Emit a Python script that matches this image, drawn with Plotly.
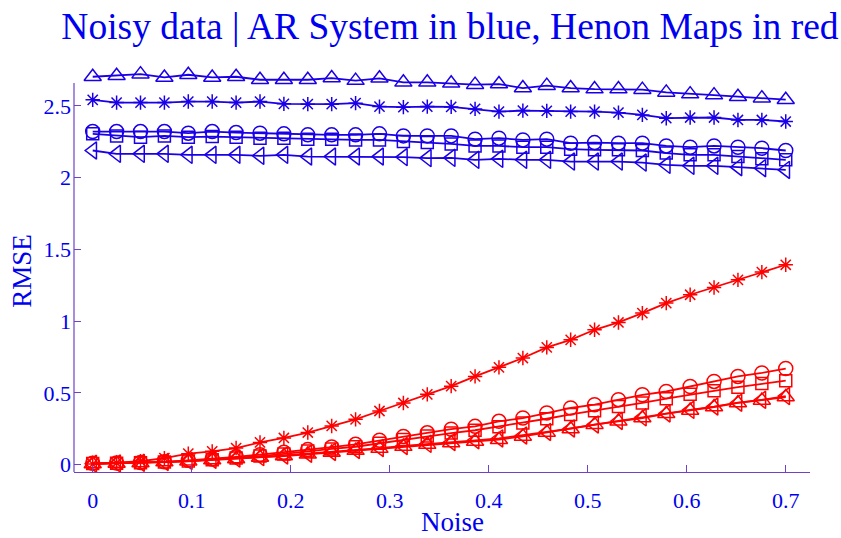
import numpy as np
import plotly.graph_objects as go

# Noise levels (30 evenly spaced runs from 0 to 0.7)
noise = np.linspace(0, 0.7, 30)

# AR system RMSE curves
ar_triangle_up = [2.703, 2.710, 2.721, 2.698, 2.717, 2.698, 2.703, 2.682, 2.682, 2.682,
                  2.694, 2.676, 2.692, 2.664, 2.664, 2.657, 2.648, 2.652, 2.624, 2.641,
                  2.624, 2.617, 2.617, 2.613, 2.594, 2.582, 2.575, 2.564, 2.554, 2.543]
ar_star = [2.542, 2.523, 2.523, 2.523, 2.530, 2.530, 2.523, 2.530, 2.514, 2.512,
           2.512, 2.519, 2.495, 2.491, 2.495, 2.493, 2.479, 2.460, 2.467, 2.465,
           2.460, 2.460, 2.453, 2.437, 2.414, 2.419, 2.419, 2.402, 2.402, 2.391]
ar_circle = [2.321, 2.321, 2.321, 2.321, 2.310, 2.321, 2.314, 2.310, 2.305, 2.298,
             2.298, 2.298, 2.305, 2.291, 2.291, 2.291, 2.268, 2.275, 2.263, 2.268,
             2.240, 2.244, 2.240, 2.240, 2.221, 2.212, 2.221, 2.212, 2.205, 2.189]
ar_square = [2.305, 2.291, 2.282, 2.291, 2.282, 2.286, 2.282, 2.275, 2.275, 2.268,
             2.268, 2.263, 2.263, 2.251, 2.244, 2.235, 2.221, 2.221, 2.212, 2.212,
             2.198, 2.194, 2.194, 2.189, 2.171, 2.159, 2.159, 2.147, 2.131, 2.124]
ar_triangle_left = [2.189, 2.166, 2.166, 2.166, 2.159, 2.159, 2.159, 2.152, 2.159, 2.147,
                    2.147, 2.147, 2.147, 2.143, 2.136, 2.138, 2.124, 2.131, 2.124, 2.124,
                    2.112, 2.112, 2.112, 2.105, 2.089, 2.082, 2.082, 2.073, 2.066, 2.054]

# Henon map RMSE curves
hn_star = [0.004, 0.012, 0.024, 0.046, 0.077, 0.093, 0.116, 0.155, 0.186, 0.224,
           0.270, 0.316, 0.374, 0.430, 0.490, 0.547, 0.615, 0.678, 0.743, 0.817,
           0.870, 0.940, 0.991, 1.056, 1.126, 1.184, 1.235, 1.288, 1.342, 1.393]
hn_circle = [0.010, 0.012, 0.015, 0.020, 0.030, 0.040, 0.055, 0.070, 0.086, 0.105,
             0.123, 0.142, 0.170, 0.197, 0.222, 0.247, 0.267, 0.302, 0.325, 0.360,
             0.395, 0.418, 0.453, 0.487, 0.510, 0.545, 0.580, 0.615, 0.639, 0.670]
hn_square = [0.008, 0.010, 0.013, 0.018, 0.025, 0.035, 0.047, 0.060, 0.075, 0.095,
             0.110, 0.125, 0.150, 0.175, 0.200, 0.220, 0.240, 0.265, 0.290, 0.320,
             0.350, 0.375, 0.405, 0.430, 0.460, 0.490, 0.515, 0.540, 0.565, 0.585]
hn_triangle_up = [0.005, 0.008, 0.012, 0.018, 0.024, 0.032, 0.040, 0.050, 0.060, 0.072,
                  0.085, 0.098, 0.112, 0.126, 0.140, 0.151, 0.162, 0.174, 0.197, 0.225,
                  0.249, 0.279, 0.302, 0.325, 0.355, 0.378, 0.402, 0.430, 0.448, 0.471]
hn_triangle_left = [0.006, 0.009, 0.013, 0.019, 0.026, 0.034, 0.043, 0.053, 0.064, 0.076,
                    0.089, 0.102, 0.116, 0.130, 0.145, 0.158, 0.170, 0.183, 0.203, 0.228,
                    0.252, 0.280, 0.305, 0.330, 0.357, 0.382, 0.405, 0.432, 0.452, 0.478]

x_ticks = [0, 0.1, 0.2, 0.3, 0.4, 0.5, 0.6, 0.7]
x_tick_text = ["0", "0.1", "0.2", "0.3", "0.4", "0.5", "0.6", "0.7"]
y_ticks = [0, 0.5, 1, 1.5, 2, 2.5]
y_tick_text = ["0", "0.5", "1", "1.5", "2", "2.5"]

BLUE = "#1a00e8"
RED = "#ff0000"
AXIS = "#7040c8"
TEXT = "#0000f0"
FONT = "Liberation Serif, Times New Roman, serif"

series = [
    (ar_triangle_up, BLUE, "triangle-up-open", 15),
    (ar_star, BLUE, "asterisk-open", 12),
    (ar_circle, BLUE, "circle-open", 14),
    (ar_square, BLUE, "square-open", 12),
    (ar_triangle_left, BLUE, "triangle-left-open", 15),
    (hn_star, RED, "asterisk-open", 12),
    (hn_circle, RED, "circle-open", 14),
    (hn_square, RED, "square-open", 12),
    (hn_triangle_up, RED, "triangle-up-open", 15),
    (hn_triangle_left, RED, "triangle-left-open", 15),
]

fig = go.Figure()
for values, color, symbol, size in series:
    fig.add_trace(go.Scatter(
        x=noise, y=values, mode="lines+markers",
        line=dict(color=color, width=1.8),
        marker=dict(symbol=symbol, size=size, color=color,
                    line=dict(color=color, width=1.5)),
        cliponaxis=False, showlegend=False,
    ))

Y_MIN, Y_AXIS_TOP = -0.051, 2.66

# Left axis line stops at the axis top while the data area extends a bit higher
fig.add_shape(type="line", xref="paper", yref="y", x0=0, x1=0,
              y0=Y_MIN, y1=Y_AXIS_TOP, line=dict(color=AXIS, width=1.2))

# x-axis label, centred under the full axis box
fig.add_annotation(text="Noise", xref="paper", yref="paper", x=0.514, y=-0.125,
                   xanchor="center", yanchor="middle", showarrow=False,
                   font=dict(family=FONT, size=27, color=TEXT))

fig.update_layout(
    width=841, height=538,
    margin=dict(l=74, r=31, t=70, b=66),
    paper_bgcolor="white", plot_bgcolor="white",
    font=dict(family=FONT, color=TEXT),
    title=dict(text="Noisy data | AR System in blue, Henon Maps in red",
               font=dict(family=FONT, size=37.5, color=TEXT),
               x=0.535, xanchor="center", y=0.952, yanchor="middle"),
    xaxis=dict(
        range=[-0.0189, 0.7245], tickvals=x_ticks, ticktext=x_tick_text,
        ticks="inside", ticklen=7, tickcolor=AXIS, tickwidth=1.2,
        showline=True, linecolor=AXIS, linewidth=1.2,
        showgrid=False, zeroline=False, automargin=False,
        tickfont=dict(family=FONT, size=22, color=TEXT),
        ticklabelstandoff=8,
    ),
    yaxis=dict(
        range=[Y_MIN, 2.75], tickvals=y_ticks, ticktext=y_tick_text,
        ticks="inside", ticklen=7, tickcolor=AXIS, tickwidth=1.2,
        showline=False, showgrid=False, zeroline=False, automargin=False,
        tickfont=dict(family=FONT, size=22, color=TEXT),
        ticklabelstandoff=2,
        title=dict(text="RMSE", font=dict(family=FONT, size=27, color=TEXT), standoff=4),
    ),
)

fig.write_html("out.html")
